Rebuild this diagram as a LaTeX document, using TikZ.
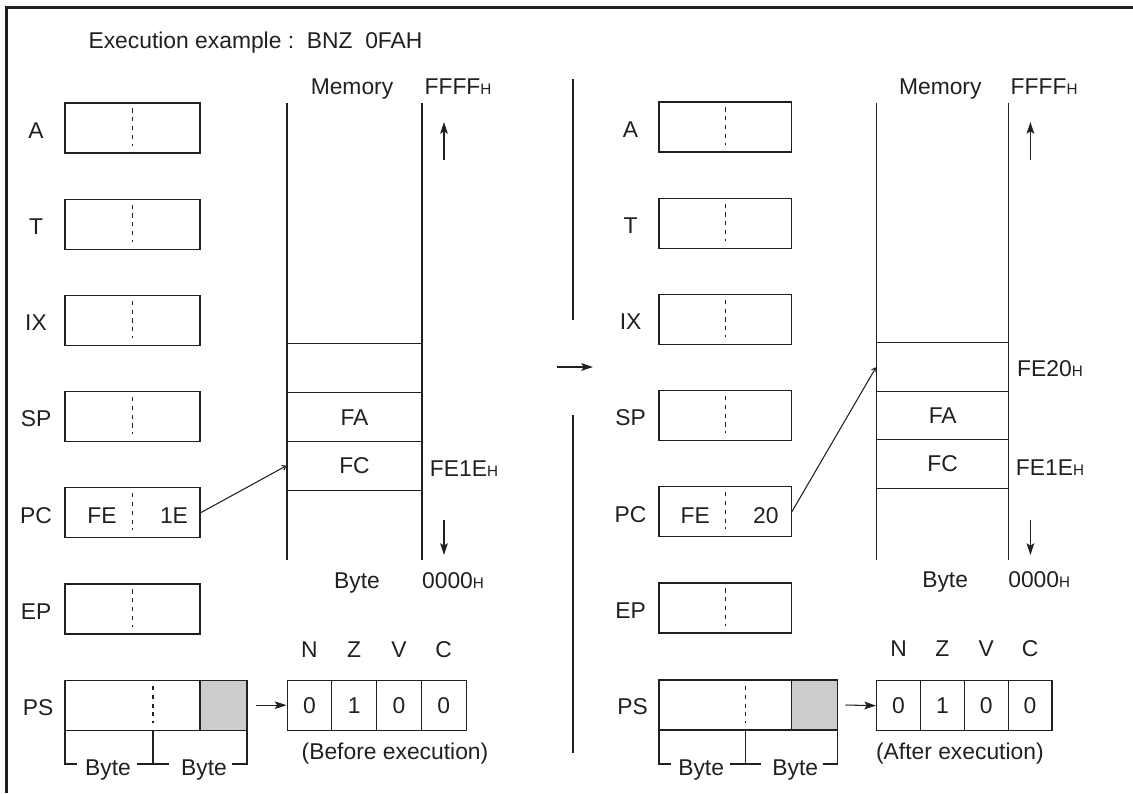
\documentclass[tikz,border=0pt]{standalone}
\usepackage{fontspec}
\setmainfont{Liberation Sans}
\usetikzlibrary{arrows.meta}

\definecolor{ink}{RGB}{35,31,32}
\definecolor{ccrgray}{RGB}{204,204,204}
\newcommand{\hx}{{\fontsize{13pt}{13pt}\selectfont H}}
\newcommand{\sx}{1}

\tikzset{
  every node/.style={font=\fontsize{19.5pt}{21pt}\selectfont, inner sep=0pt,
    text height=14pt, text depth=0pt},
  reg/.style={draw, minimum width=\sx*4.05cm, minimum height=1.5cm},
  psreg/.style={draw, minimum width=\sx*5.46cm, minimum height=1.5cm},
  ccr/.style={draw, fill=ccrgray, minimum width=\sx*1.41cm, minimum height=1.5cm},
  memcell/.style={draw, minimum width=\sx*4.05cm, minimum height=1.46cm},
  flag/.style={draw, minimum width=\sx*1.3425cm, minimum height=1.5cm},
  half/.style={dash pattern=on 3.5pt off 4pt},
  arr/.style={-{Stealth[length=10pt,width=6.5pt,inset=2pt]}},
  ptr/.style={-{Straight Barb[length=3pt,width=4.5pt]}},
}

\begin{document}
\begin{tikzpicture}[x=0.03cm, y=-0.03cm, line width=0.9pt, color=ink]
  \useasboundingbox (0,0) rectangle (1133,793);
  \draw[line width=2.2pt] (6.5,793) -- (6.5,7.5) -- (1133,7.5);

  \node[anchor=west] (title) at (88,40) {Execution example :\ \ BNZ\ \ 0FAH};

  % before execution
  \begin{scope}
    \foreach \rn [count=\i from 0] in {A,T,IX,SP,PC,EP} {
      \node (bl\rn) at (36,130+96.2*\i) {\rn};
      \node[reg] (b\rn) at (132.5,128+96.2*\i) {};
      \draw[half] ([yshift=-0.18cm]b\rn.north) -- ([yshift=0.24cm]b\rn.south);
    }
    \node (bhi) at (102,515) {FE};
    \node (blo) at (174,515) {1E};

    \node (blPS) at (38,707) {PS};
    \node[psreg] (bPS) at (156,705.2) {};
    \node[ccr] (bCCR) at (223.5,705.2) {};
    \draw[half] (153,686) -- (153,723);
    \node (bby1) at (108,767.5) {Byte};
    \node (bby2) at (204,767.5) {Byte};
    \draw (65,731) -- (65,764) -- (77,764);
    \draw (137,764) -- (169,764) (153,731) -- (153,764);
    \draw (232,764) -- (247,764) -- (247,731);

    \draw (287,103) -- (287,560) (422,103) -- (422,560);
    \node[memcell] (bm0) at (354.5,368.3) {};
    \node[memcell] (bm1) at (354.5,417) {FA};
    \node[memcell] (bm2) at (354.5,465.7) {FC};
    \node (bmem) at (352,86) {Memory};
    \node (btop) at (458,86) {FFFF\hx};
    \node (bfe1e) at (464,468.5) {FE1E\hx};
    \node (bbyte) at (357,580.5) {Byte};
    \node (bbot) at (453,580.5) {0000\hx};
    \draw[arr] (444,160) -- (444,122);
    \draw[arr] (444,520) -- (444,555);
    \draw[ptr] (bPC.east) -- (bm2.west);

    \foreach \f/\v [count=\i from 0] in {N/0,Z/1,V/0,C/0} {
      \node[flag] (bf\i) at (309.4+44.75*\i,705.2) {\v};
      \node (bfl\i) at (309.4+44.75*\i,649.5) {\f};
    }
    \draw[arr] ([xshift=0.24cm]bPS.east) -- (bf0.west);
    \node (bnote) at (395,751) {(Before execution)};
  \end{scope}

  % divider
  \draw (573,79) -- (573,320) (573,415) -- (573,753);
  \draw[arr] (557,367) -- (593,367);

  % after execution
  \begin{scope}[shift={(595.3,0)}, xscale=0.98]
    \renewcommand{\sx}{0.98}
    \foreach \rn [count=\i from 0] in {A,T,IX,SP,PC,EP} {
      \node (al\rn) at (36,129+96.2*\i) {\rn};
      \node[reg] (a\rn) at (132.5,127+96.2*\i) {};
      \draw[half] ([yshift=-0.18cm]a\rn.north) -- ([yshift=0.24cm]a\rn.south);
    }
    \node (ahi) at (102,515) {FE};
    \node (alo) at (174,515) {20};

    \node (alPS) at (38,706) {PS};
    \node[psreg] (aPS) at (156,705) {};
    \node[ccr] (aCCR) at (223.5,705) {};
    \draw[half] (153,686) -- (153,723);
    \node (aby1) at (108,767.5) {Byte};
    \node (aby2) at (204,767.5) {Byte};
    \draw (65,731) -- (65,764) -- (77,764);
    \draw (137,764) -- (169,764) (153,731) -- (153,764);
    \draw (232,764) -- (247,764) -- (247,731);

    \draw (287,103) -- (287,560) (422,103) -- (422,560);
    \node[memcell] (am0) at (354.5,367.3) {};
    \node[memcell] (am1) at (354.5,415.5) {FA};
    \node[memcell] (am2) at (354.5,463.7) {FC};
    \node (amem) at (352,86) {Memory};
    \node (atop) at (458,86) {FFFF\hx};
    \node (afe20) at (464,368.5) {FE20\hx};
    \node (afe1e) at (464,467) {FE1E\hx};
    \node (abyte) at (357,579) {Byte};
    \node (abot) at (453,579) {0000\hx};
    \draw[arr] (444,160) -- (444,122);
    \draw[arr] (444,520) -- (444,555);
    \draw[ptr] (aPC.east) -- (am0.west);

    \foreach \f/\v [count=\i from 0] in {N/0,Z/1,V/0,C/0} {
      \node[flag] (af\i) at (309.4+44.75*\i,705.7) {\v};
      \node (afl\i) at (309.4+44.75*\i,648) {\f};
    }
    \draw[arr] ([xshift=0.24cm]aPS.east) -- (af0.west);
    \node (anote) at (372,751) {(After execution)};
  \end{scope}
\end{tikzpicture}
\end{document}
